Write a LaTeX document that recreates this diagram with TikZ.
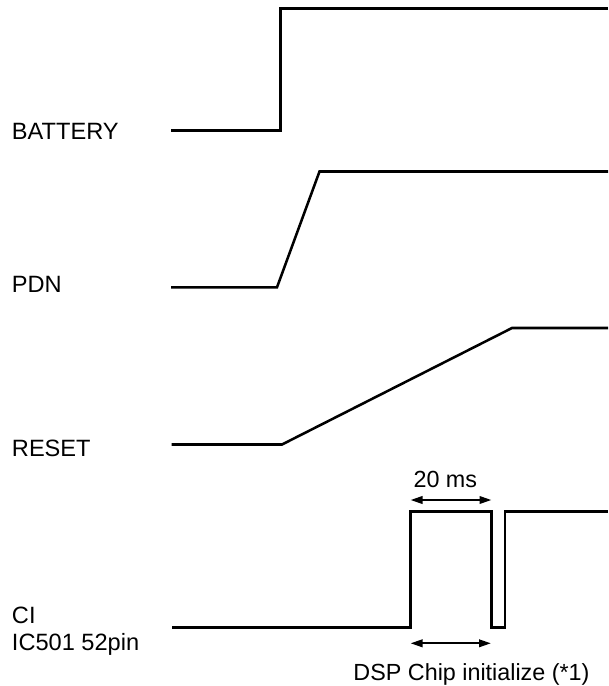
\documentclass[tikz,border=0pt]{standalone}
\usepackage{fontspec}
\setmainfont{Liberation Sans}
\usetikzlibrary{arrows.meta}
\begin{document}
\begin{tikzpicture}[x=0.75pt,y=-0.75pt,
  sig/.style={line width=1.9pt, line join=miter},
  lbl/.style={anchor=base west, inner sep=0pt, font=\fontsize{17.7}{21}\selectfont},
  clbl/.style={anchor=base, inner sep=0pt, font=\fontsize{17.5}{21}\selectfont},
  dimarrow/.style={line width=1.6pt, {Triangle[length=9pt,width=5.6pt]}-{Triangle[length=9pt,width=5.6pt]}}]
\useasboundingbox (0,0) rectangle (608,686);
% labels
\node[lbl] (lbat) at (11.7,139) {BATTERY};
\node[lbl] (lpdn) at (11.7,292.7) {PDN};
\node[lbl] (lrst) at (11.7,456.7) {RESET};
\node[lbl] (lci) at (11.7,623) {CI};
\node[lbl] (lic) at (11.7,650) {IC501 52pin};
% BATTERY
\draw[sig] (171,130.5) -- (280.5,130.5) -- (280.5,8.5) -- (608,8.5);
% PDN
\draw[sig] (171,287.3) -- (277,287.3) -- (319.5,171.5) -- (608,171.5);
% RESET
\draw[sig] (171.5,444.5) -- (282,444.5) -- (512,328) -- (608,328);
% CI
\draw[sig] (172,627.7) -- (410.3,627.7) -- (410.3,511.7) -- (491.5,511.7) -- (491.5,627.7) -- (505,627.7) -- (505,511.7) -- (608,511.7);
% 20 ms
\coordinate (a1) at (410.5,500);
\coordinate (a2) at (491.5,500);
\draw[dimarrow] (a1) -- (a2);
\node[clbl] (t20) at (445.3,487.3) {20 ms};
% DSP
\coordinate (b1) at (410.5,643.3);
\coordinate (b2) at (491,643.3);
\draw[dimarrow] (b1) -- (b2);
\node[clbl] (tdsp) at (471.5,680) {DSP Chip initialize (*1)};
\end{tikzpicture}
\end{document}
